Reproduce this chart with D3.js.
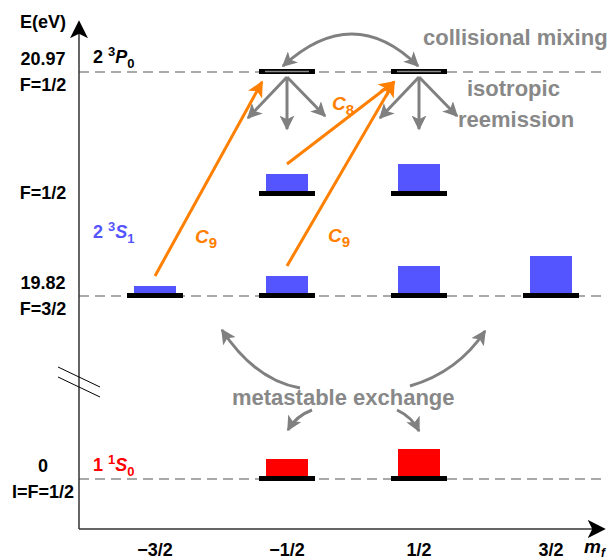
<!DOCTYPE html>
<html>
<head>
<meta charset="utf-8">
<script src="https://cdn.jsdelivr.net/npm/d3@7"></script>
<style>
  body { margin: 0; background: #fff; }
  text { font-family: "Liberation Sans", Arial, sans-serif; font-weight: bold; }
</style>
</head>
<body>
<script>
"use strict";

// m_f sublevels along the x axis
const mfValues = [-1.5, -0.5, 0.5, 1.5];
const mfLabels = ["\u22123/2", "\u22121/2", "1/2", "3/2"];

// energy levels (schematic, broken axis)
const levelKeys = ["P0", "S1F12", "S1F32", "S0"];
const energyLabels = [["20.97", "F=1/2"], ["", "F=1/2"], ["19.82", "F=3/2"], ["0", "I=F=1/2"]];

// relative populations per sublevel (null = no sublevel)
const popP0 = [null, 0, 0, null];
const popS1F12 = [null, 2, 3, null];
const popS1F32 = [1, 2, 3, 4];
const popS0 = [null, 2, 3, null];

// optical pumping transitions: [from level, from mf, to level, to mf, label, sub]
const pumpLines = [
  ["S1F32", -1.5, "P0", -0.5, "C", "9"],
  ["S1F32", -0.5, "P0", 0.5, "C", "9"],
  ["S1F12", -0.5, "P0", 0.5, "C", "8"]
];

const width = 611, height = 560;
const svg = d3.select("body").append("svg")
    .attr("width", width)
    .attr("height", height);

const x = d3.scaleLinear().domain([-1.5, 1.5]).range([155, 551]);
const y = d3.scaleOrdinal().domain(levelKeys).range([72, 194, 296, 479]);
const h = d3.scaleLinear().domain([0, 4]).range([0, 40]);

const axisX = 79, axisY = 529;
const gray = "#808080", orange = "#ff8000", blue = "#5555ff", red = "#ff0000";

// markers
const defs = svg.append("defs");
function marker(id, color, size) {
  defs.append("marker")
      .attr("id", id)
      .attr("viewBox", "0 -5 10 10")
      .attr("refX", 9)
      .attr("refY", 0)
      .attr("markerWidth", size)
      .attr("markerHeight", size)
      .attr("markerUnits", "userSpaceOnUse")
      .attr("orient", "auto-start-reverse")
    .append("path")
      .attr("d", "M0,-5L10,0L0,5L2.5,0Z")
      .attr("fill", color);
}
marker("grayHead", gray, 15);
marker("orangeHead", orange, 16);
marker("blackHead", "#000", 18);

// dashed level lines
svg.append("g")
  .selectAll("line")
  .data(["P0", "S1F32", "S0"])
  .join("line")
    .attr("x1", axisX).attr("x2", 605)
    .attr("y1", d => y(d)).attr("y2", d => y(d))
    .attr("stroke", "#555")
    .attr("stroke-width", 1.2)
    .attr("stroke-dasharray", "10,6");

// axes
svg.append("line")
    .attr("x1", axisX).attr("x2", axisX)
    .attr("y1", axisY).attr("y2", 22)
    .attr("stroke", "#333").attr("stroke-width", 1.5)
    .attr("marker-end", "url(#blackHead)");
svg.append("line")
    .attr("x1", axisX).attr("x2", 604)
    .attr("y1", axisY).attr("y2", axisY)
    .attr("stroke", "#333").attr("stroke-width", 1.5)
    .attr("marker-end", "url(#blackHead)");

// axis break marks
svg.append("g")
  .selectAll("line")
  .data([0, 10])
  .join("line")
    .attr("x1", 58).attr("x2", 100)
    .attr("y1", d => 367 + d).attr("y2", d => 387 + d)
    .attr("stroke", "#000").attr("stroke-width", 1);

// tick labels
svg.append("g")
  .selectAll("text")
  .data(mfValues)
  .join("text")
    .attr("x", d => x(d))
    .attr("y", 556)
    .attr("text-anchor", "middle")
    .attr("font-size", 18)
    .text((d, i) => mfLabels[i]);

const mf = svg.append("text")
    .attr("x", 584).attr("y", 553)
    .attr("font-size", 19)
    .attr("font-style", "italic");
mf.append("tspan").text("m");
mf.append("tspan").attr("font-size", 12).attr("dy", 4).text("f");

// y labels
svg.append("text")
    .attr("x", 43).attr("y", 28)
    .attr("text-anchor", "middle")
    .attr("font-size", 18)
    .text("E(eV)");
const ylab = svg.append("g")
  .selectAll("g")
  .data(levelKeys)
  .join("g");
ylab.append("text")
    .attr("x", 43).attr("y", d => y(d) - 7)
    .attr("text-anchor", "middle")
    .attr("font-size", 18)
    .text((d, i) => energyLabels[i][0]);
ylab.append("text")
    .attr("x", 43).attr("y", (d, i) => i === 1 ? y(d) + 5 : y(d) + 19)
    .attr("text-anchor", "middle")
    .attr("font-size", 18)
    .text((d, i) => energyLabels[i][1]);

// term symbols
function term(level, yy, n, mult, L, J, color) {
  const t = svg.append("text")
      .attr("x", 93).attr("y", yy)
      .attr("font-size", 18)
      .attr("fill", color);
  t.append("tspan").text(n + " ");
  t.append("tspan").attr("font-size", 13).attr("dy", -7).text(mult);
  t.append("tspan").attr("font-style", "italic").attr("dy", 7).text(L);
  t.append("tspan").attr("font-size", 13).attr("dy", 5).text(J);
}
term("P0", 63, "2", "3", "P", "0", "#000");
term("S1", 238, "2", "3", "S", "1", blue);
term("S0", 471, "1", "1", "S", "0", red);

// population bars and sublevel bars
function sublevels(level, pops, color) {
  const data = mfValues.map((m, i) => ({m: m, p: pops[i]})).filter(d => d.p !== null);
  const g = svg.append("g");
  g.selectAll("rect.pop")
    .data(data.filter(d => d.p > 0))
    .join("rect")
      .attr("class", "pop")
      .attr("x", d => x(d.m) - 21)
      .attr("width", 42)
      .attr("y", d => y(level) - h(d.p))
      .attr("height", d => h(d.p))
      .attr("fill", color);
  g.selectAll("rect.lev")
    .data(data)
    .join("rect")
      .attr("class", "lev")
      .attr("x", d => x(d.m) - 28)
      .attr("width", 56)
      .attr("y", y(level) - 3)
      .attr("height", 5)
      .attr("fill", "#000");
}
sublevels("S1F12", popS1F12, blue);
sublevels("S1F32", popS1F32, blue);
sublevels("S0", popS0, red);
sublevels("P0", popP0, blue);
svg.append("g")
  .selectAll("line")
  .data(mfValues.filter((m, i) => popP0[i] !== null))
  .join("line")
    .attr("x1", d => x(d) - 22).attr("x2", d => x(d) + 22)
    .attr("y1", y("P0") - 0.5).attr("y2", y("P0") - 0.5)
    .attr("stroke", "#888").attr("stroke-width", 1.5);

// collisional mixing arc
const arc = d3.path();
arc.moveTo(x(-0.5) - 4, y("P0") - 6);
arc.quadraticCurveTo((x(-0.5) + x(0.5)) / 2, y("P0") - 70, x(0.5) - 1, y("P0") - 6);
svg.append("path")
    .attr("d", arc.toString())
    .attr("fill", "none")
    .attr("stroke", gray).attr("stroke-width", 3)
    .attr("marker-start", "url(#grayHead)")
    .attr("marker-end", "url(#grayHead)");

// isotropic reemission fans
const fan = [[-39, 41], [0, 52], [38, 39]];
mfValues.filter((m, i) => popP0[i] !== null).forEach(m => {
  svg.append("g")
    .selectAll("line")
    .data(fan)
    .join("line")
      .attr("x1", x(m)).attr("y1", y("P0") + 5)
      .attr("x2", d => x(m) + d[0]).attr("y2", d => y("P0") + 5 + d[1])
      .attr("stroke", gray).attr("stroke-width", 3)
      .attr("marker-end", "url(#grayHead)");
});

// orange pumping arrows
const pumps = svg.append("g");
pumpLines.forEach(d => {
  const fromIdx = mfValues.indexOf(d[1]);
  const pops = d[0] === "S1F32" ? popS1F32 : popS1F12;
  const x1 = x(d[1]), y1 = y(d[0]) - h(pops[fromIdx]) - 10;
  const x2 = x(d[3]) - 25, y2 = y(d[2]) + 10;
  pumps.append("line")
      .attr("x1", x1).attr("y1", y1)
      .attr("x2", x2).attr("y2", y2)
      .attr("stroke", orange).attr("stroke-width", 3)
      .attr("marker-end", "url(#orangeHead)");
});
function cLabel(xx, yy, sub) {
  const t = svg.append("text")
      .attr("x", xx).attr("y", yy)
      .attr("font-size", 19)
      .attr("font-style", "italic")
      .attr("fill", orange);
  t.append("tspan").text("C");
  t.append("tspan").attr("font-size", 15).attr("font-style", "normal").attr("dy", 5).text(sub);
}
cLabel(195, 243, "9");
cLabel(328, 242, "9");
cLabel(332, 110, "8");

// gray labels
const grayText = [["collisional mixing", 423, 45], ["isotropic", 467, 96], ["reemission", 458, 127], ["metastable exchange", 232, 405]];
svg.append("g")
  .selectAll("text")
  .data(grayText)
  .join("text")
    .attr("x", d => d[1]).attr("y", d => d[2])
    .attr("font-size", 22)
    .attr("fill", "#888")
    .text(d => d[0]);

// metastable exchange arrows
const exch = [
  [[300, 388], [255, 380], [222, 330]],
  [[410, 386], [458, 372], [485, 331]],
  [[312, 410], [296, 416], [288, 430]],
  [[397, 410], [412, 417], [419, 431]]
];
exch.forEach(c => {
  const p = d3.path();
  p.moveTo(c[0][0], c[0][1]);
  p.quadraticCurveTo(c[1][0], c[1][1], c[2][0], c[2][1]);
  svg.append("path")
      .attr("d", p.toString())
      .attr("fill", "none")
      .attr("stroke", gray).attr("stroke-width", 3)
      .attr("marker-end", "url(#grayHead)");
});
</script>
</body>
</html>
